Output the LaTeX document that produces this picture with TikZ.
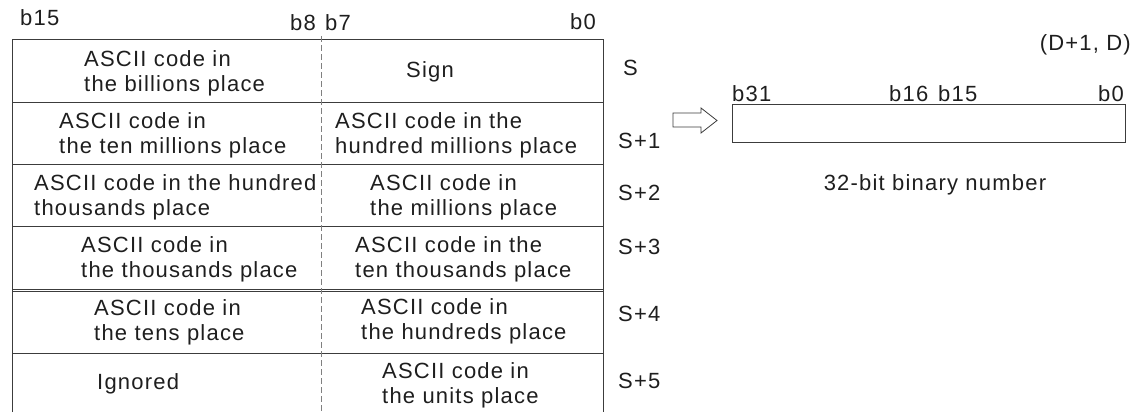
\documentclass[tikz,border=0pt]{standalone}
\usepackage{fontspec}
\setmainfont{Liberation Sans}[LetterSpace=5.5]
\usepackage{xcolor}
\usetikzlibrary{positioning}
\definecolor{rulegray}{HTML}{3C3C3C}
\definecolor{inkgray}{HTML}{1E1E1E}

\begin{document}
\begin{tikzpicture}[x=1pt, y=-1pt, node distance=1cm]
        \tikzstyle{cell} = [anchor=west, align=left, inner sep=0pt, text=inkgray, font=\fontsize{22}{25}\selectfont]
        \tikzstyle{bitlabel} = [anchor=base west, inner sep=0pt, text=inkgray, font=\fontsize{22}{25}\selectfont]
        \tikzstyle{grid} = [draw=rulegray, line width=0.9pt]
        \useasboundingbox (0,0) rectangle (1147,412);

        % Source table
        \draw [grid] (12,412) -- (12,39) -- (603,39) -- (603,412);
        \foreach \y in {102,164,226,289,291,353}
            \draw [grid] (12,\y) -- (603,\y);
        \draw [gray, line width=0.8pt, dash pattern=on 6pt off 3pt] (321,36) -- (321,412);

        % Bit positions
        \node [bitlabel] (b15) at (20,26) {b15};
        \node [bitlabel] (b8) at (290,31) {b8};
        \node [bitlabel] (b7) at (325,31) {b7};
        \node [bitlabel, anchor=base east] (b0) at (596,30) {b0};

        % Cells
        \node [cell] (bil) at (84,73) {ASCII code in\\the billions place};
        \node [cell, anchor=center] (sign) at (430,72) {Sign};
        \node [cell] (tmil) at (59,135) {ASCII code in\\the ten millions place};
        \node [cell] (hmil) at (335,135) {ASCII code in the\\hundred millions place};
        \node [cell] (hthou) at (34,197) {ASCII code in the hundred\\thousands place};
        \node [cell] (mil) at (370,197) {ASCII code in\\the millions place};
        \node [cell] (thou) at (81,259) {ASCII code in\\the thousands place};
        \node [cell] (tthou) at (355,259) {ASCII code in the\\ten thousands place};
        \node [cell] (tens) at (94,322) {ASCII code in\\the tens place};
        \node [cell] (hund) at (361,321) {ASCII code in\\the hundreds place};
        \node [cell] (ign) at (97,384) {Ignored};
        \node [cell] (unit) at (382,385) {ASCII code in\\the units place};

        % Device numbers
        \node [bitlabel, anchor=west] (s0) at (623,68) {S};
        \foreach \name/\txt/\y in {s1/S+1/141, s2/S+2/193, s3/S+3/247, s4/S+4/314, s5/S+5/381}
            \node [bitlabel, anchor=west] (\name) at (618,\y) {\txt};

        % Result register
        \draw [rulegray, line width=0.8pt] (673,113) -- (701,113) -- (701,108) -- (717,120.5)
            -- (701,133) -- (701,127) -- (673,127) -- cycle;
        \node [grid, minimum width=393pt, minimum height=38pt, inner sep=0pt, anchor=north west] (reg) at (732,104) {};
        \node [bitlabel] (r31) at (732,101) {b31};
        \node [bitlabel] (r16) at (889,101) {b16};
        \node [bitlabel] (r15) at (938,101) {b15};
        \node [bitlabel, anchor=base east] (r0) at (1124,101) {b0};
        \node [bitlabel, anchor=base east] (dest) at (1131,50) {(D+1, D)};
        \node [bitlabel, below=31pt of reg, xshift=6pt] (caption) {32-bit binary number};
\end{tikzpicture}
\end{document}
